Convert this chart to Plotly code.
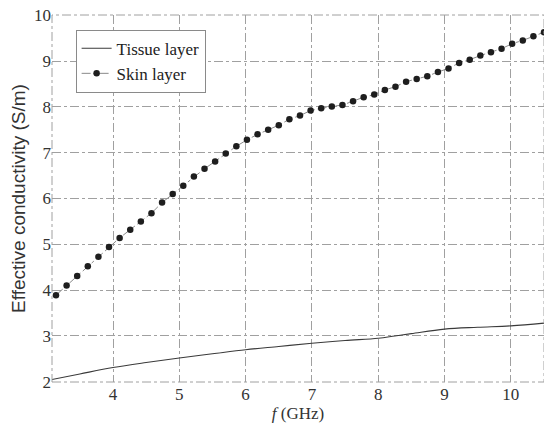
import plotly.graph_objects as go

# Frequency samples (GHz) and effective conductivity (S/m)
skin_f = [3.14, 3.30, 3.46, 3.62, 3.78, 3.94, 4.10, 4.26, 4.42, 4.58,
          4.74, 4.90, 5.06, 5.22, 5.38, 5.54, 5.70, 5.86, 6.02, 6.18,
          6.34, 6.50, 6.66, 6.82, 6.98, 7.14, 7.30, 7.46, 7.62, 7.78,
          7.94, 8.10, 8.26, 8.42, 8.58, 8.74, 8.90, 9.06, 9.22, 9.38,
          9.54, 9.70, 9.86, 10.02, 10.18, 10.34, 10.50]
skin_sigma = [3.89, 4.10, 4.31, 4.52, 4.73, 4.94, 5.14, 5.32, 5.50, 5.68,
              5.91, 6.10, 6.28, 6.48, 6.65, 6.81, 6.98, 7.14, 7.28, 7.40,
              7.50, 7.60, 7.73, 7.81, 7.92, 7.97, 8.01, 8.04, 8.12, 8.21,
              8.27, 8.37, 8.44, 8.55, 8.61, 8.67, 8.76, 8.84, 8.96, 9.03,
              9.12, 9.19, 9.27, 9.38, 9.45, 9.54, 9.63]

tissue_f = [3.08, 3.5, 4.0, 4.5, 5.0, 5.5, 6.0, 6.5, 7.0, 7.5, 8.0, 8.25,
            8.5, 9.0, 9.5, 10.0, 10.5]
tissue_sigma = [2.05, 2.17, 2.31, 2.42, 2.52, 2.61, 2.70, 2.77, 2.84, 2.90,
                2.95, 3.00, 3.05, 3.15, 3.19, 3.22, 3.28]

x_ticks = [4, 5, 6, 7, 8, 9, 10]
y_ticks = [2, 3, 4, 5, 6, 7, 8, 9, 10]

serif = "Liberation Serif"
sans = "Liberation Sans"

fig = go.Figure()
fig.add_trace(go.Scatter(
    x=tissue_f, y=tissue_sigma, mode="lines", name="Tissue layer",
    line=dict(color="#3a3a3a", width=1.1, shape="spline"),
))
fig.add_trace(go.Scatter(
    x=skin_f, y=skin_sigma, mode="lines+markers", name="Skin layer",
    line=dict(color="#8a8a8a", width=1, dash="dashdot"),
    marker=dict(color="#1e1e1e", size=6.5),
))

grid = dict(showgrid=True, gridcolor="#a0a0a0", gridwidth=1, griddash="dashdot",
            zeroline=False, showline=False, ticks="",
            tickfont=dict(family=serif, size=17, color="#333"))

fig.update_layout(
    width=544, height=425,
    margin=dict(l=52, r=0, t=15, b=43),
    paper_bgcolor="white", plot_bgcolor="white",
    showlegend=True,
    legend=dict(x=0.048, y=0.96, xanchor="left", yanchor="top",
                bgcolor="white", bordercolor="#8a8a8a", borderwidth=1,
                font=dict(family=serif, size=17, color="#222"),
                itemwidth=30, tracegroupgap=0),
    xaxis=dict(range=[3.08, 10.5], tickvals=x_ticks, **grid,
               title=dict(text="<i>f</i> (GHz)", standoff=2,
                          font=dict(family=serif, size=17, color="#333"))),
    yaxis=dict(range=[1.995, 10.005], tickvals=y_ticks, **grid,
               title=dict(text="Effective conductivity (S/m)", standoff=3,
                          font=dict(family=sans, size=19, color="#333"))),
    shapes=[dict(type="rect", xref="paper", yref="paper", x0=0, y0=0, x1=1, y1=1,
                 line=dict(color="#a0a0a0", width=1, dash="dashdot"))],
)

fig.write_html("out.html")
